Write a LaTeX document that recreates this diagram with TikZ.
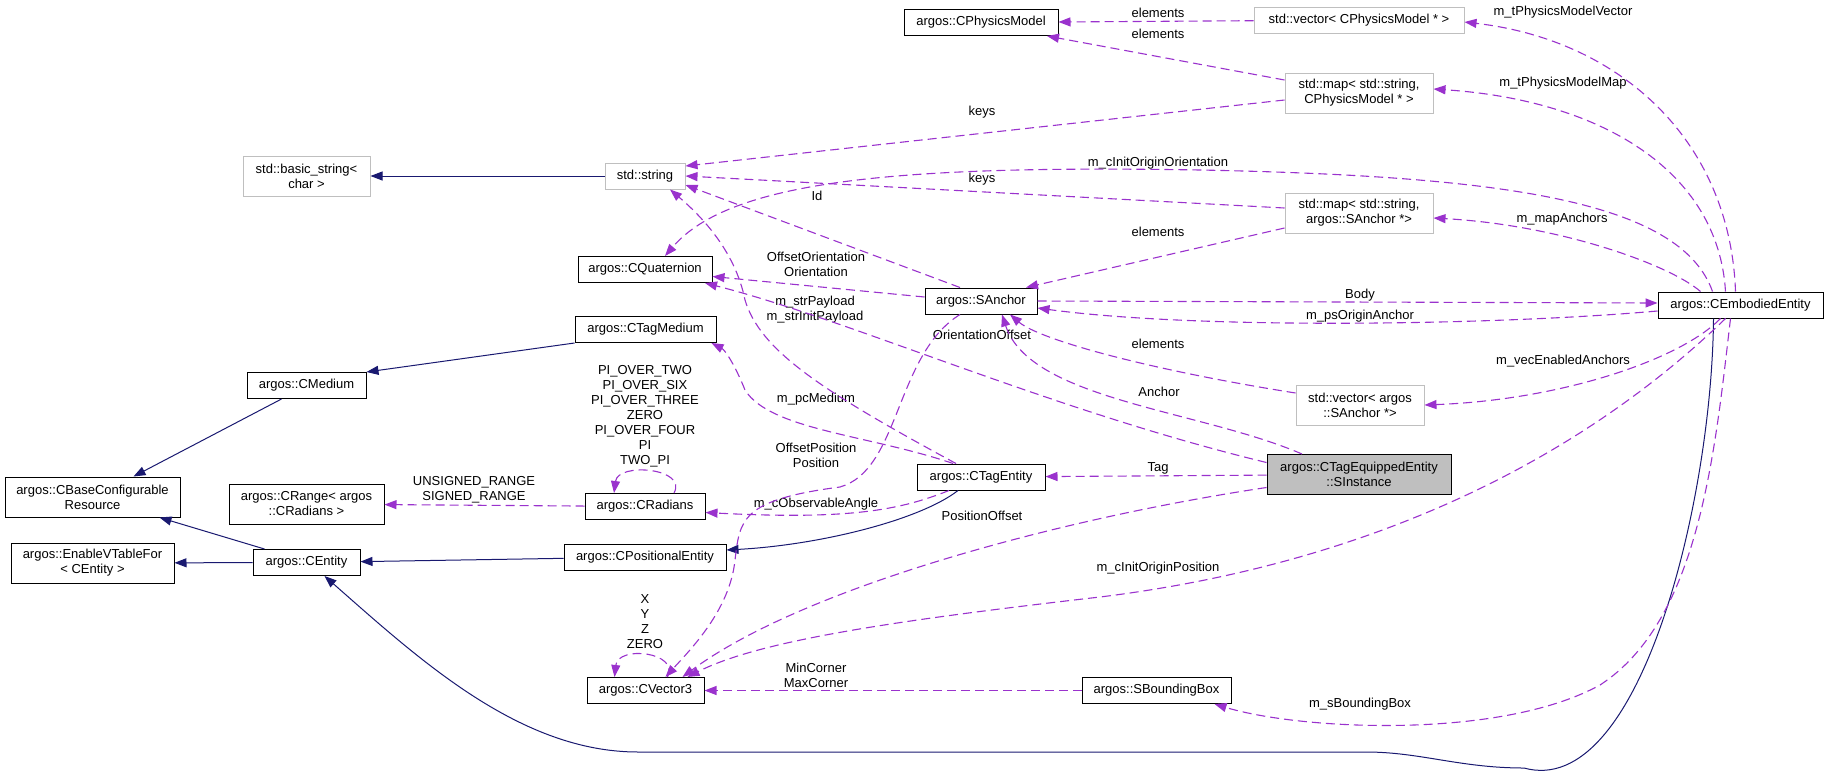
\documentclass[tikz,border=0pt]{standalone}
\usepackage{fontspec}
\setmainfont{Liberation Sans}
\usepackage{tikz}
\usetikzlibrary{arrows.meta}
\definecolor{inhblue}{HTML}{191970}
\definecolor{usepurple}{HTML}{9A32CD}
\definecolor{extgray}{HTML}{BFBFBF}
\tikzstyle{every node} = [
		font = \fontsize{13}{15}\selectfont,
		align = center
	]
\tikzstyle{cls} = [
		rectangle,
		draw = black,
		line width = 1pt,
		fill = white,
		inner xsep = 4pt,
		inner ysep = 2pt,
		minimum height = 26pt
	]
\tikzstyle{extcls} = [cls, draw = extgray]
\tikzstyle{rootcls} = [cls, fill = extgray]
\tikzstyle{twoline} = [minimum height = 40pt]
\tikzstyle{lbl} = [inner sep = 0pt]
\tikzstyle{inherit} = [
		draw = inhblue,
		line width = 1pt,
		-{Triangle[length=12pt, width=9pt]}
	]
\tikzstyle{usage} = [
		draw = usepurple,
		line width = 1.1pt,
		dash pattern = on 9pt off 5pt,
		-{Triangle[length=12pt, width=9pt]}
	]
\begin{document}
\begin{tikzpicture}[x = 1pt, y = -1pt]
	\useasboundingbox (0,0) rectangle (1828,774);

		%------------------------------Classes------------------------------
		\node [extcls, twoline, minimum width=127pt] (basicstr) at (306.5,176) {std::basic\_string<\\ char >};
		\node [extcls, minimum width=80pt] (stdstr) at (645,176) {std::string};
		\node [cls, minimum width=154pt] (physmodel) at (981,22.5) {argos::CPhysicsModel};
		\node [extcls, minimum width=210pt] (vecphys) at (1359,20) {std::vector< CPhysicsModel * >};
		\node [extcls, twoline, minimum width=148pt] (mapphys) at (1359,93) {std::map< std::string,\\ CPhysicsModel * >};
		\node [extcls, twoline, minimum width=148pt] (mapanchor) at (1359,213) {std::map< std::string,\\ argos::SAnchor *>};
		\node [cls, minimum width=134pt] (quat) at (645,269.5) {argos::CQuaternion};
		\node [cls, minimum width=112pt] (sanchor) at (981,301) {argos::SAnchor};
		\node [cls, minimum width=141pt] (tagmed) at (645.5,329.5) {argos::CTagMedium};
		\node [cls, minimum width=165pt] (embodied) at (1740.5,305) {argos::CEmbodiedEntity};
		\node [cls, minimum width=119pt] (medium) at (306.5,385.5) {argos::CMedium};
		\node [extcls, twoline, minimum width=128pt] (vecanchor) at (1360,405) {std::vector< argos\\ ::SAnchor *>};
		\node [rootcls, twoline, minimum width=184pt] (sinst) at (1359,474.5) {argos::CTagEquippedEntity\\ ::SInstance};
		\node [cls, twoline, minimum width=175pt] (baseconf) at (92.5,497) {argos::CBaseConfigurable\\ Resource};
		\node [cls, twoline, minimum width=155pt] (crange) at (306.5,504) {argos::CRange< argos\\ ::CRadians >};
		\node [cls, minimum width=128pt] (tagent) at (981,477) {argos::CTagEntity};
		\node [cls, minimum width=120pt] (radians) at (645,506.5) {argos::CRadians};
		\node [cls, twoline, minimum width=163pt] (vtable) at (92.5,563) {argos::EnableVTableFor\\ < CEntity >};
		\node [cls, minimum width=107pt] (entity) at (306.5,562.5) {argos::CEntity};
		\node [cls, minimum width=162pt] (posent) at (645,557) {argos::CPositionalEntity};
		\node [cls, minimum width=117pt] (vec3) at (645.5,690.5) {argos::CVector3};
		\node [cls, minimum width=149pt] (bbox) at (1156.5,690.5) {argos::SBoundingBox};

		%------------------------------Labels------------------------------
		\node [lbl] (lelem1) at (1158,13) {elements};
		\node [lbl] (lelem2) at (1158,34) {elements};
		\node [lbl] (lkeys1) at (982,112) {keys};
		\node [lbl] (lkeys2) at (982,179) {keys};
		\node [lbl] (lvecphys) at (1563,12) {m\_tPhysicsModelVector};
		\node [lbl] (lmapphys) at (1563,83) {m\_tPhysicsModelMap};
		\node [lbl] (lorient) at (1158,163) {m\_cInitOriginOrientation};
		\node [lbl] (lmapanch) at (1562,219) {m\_mapAnchors};
		\node [lbl] (lid) at (817,196) {Id};
		\node [lbl] (lelem3) at (1158,232) {elements};
		\node [lbl] (loffor) at (816,264) {OffsetOrientation\\Orientation};
		\node [lbl] (lbody) at (1360,295) {Body};
		\node [lbl] (lorigin) at (1360,316) {m\_psOriginAnchor};
		\node [lbl] (lpayload) at (815,310) {m\_strPayload\\m\_strInitPayload};
		\node [lbl] (loroff) at (982,335) {OrientationOffset};
		\node [lbl] (lelem4) at (1158,344) {elements};
		\node [lbl] (lenabled) at (1563,361) {m\_vecEnabledAnchors};
		\node [lbl] (lanchor) at (1159,392) {Anchor};
		\node [lbl] (lmedium) at (816,399) {m\_pcMedium};
		\node [lbl] (lpi) at (645,416) {PI\_OVER\_TWO\\PI\_OVER\_SIX\\PI\_OVER\_THREE\\ZERO\\PI\_OVER\_FOUR\\PI\\TWO\_PI};
		\node [lbl] (loffpos) at (816,455) {OffsetPosition\\Position};
		\node [lbl] (ltag) at (1158,468) {Tag};
		\node [lbl] (lrange) at (474,490) {UNSIGNED\_RANGE\\SIGNED\_RANGE};
		\node [lbl] (langle) at (816,504) {m\_cObservableAngle};
		\node [lbl] (lposoff) at (982,516) {PositionOffset};
		\node [lbl] (linitpos) at (1158,568) {m\_cInitOriginPosition};
		\node [lbl] (lxyz) at (645,622) {X\\Y\\Z\\ZERO};
		\node [lbl] (lcorner) at (816,675) {MinCorner\\MaxCorner};
		\node [lbl] (lbbox) at (1360,704) {m\_sBoundingBox};

		%------------------------------Inheritance------------------------------
		\draw [inherit] (stdstr) -- (basicstr);
		\draw [inherit] (tagmed.south west) -- (medium.north east);
		\draw [inherit] ([xshift=-25pt]medium.south) -- ([xshift=41pt]baseconf.north);
		\draw [inherit] ([xshift=-42pt]entity.north) -- ([xshift=67pt]baseconf.south);
		\draw [inherit] (entity) -- (vtable);
		\draw [inherit] (posent) -- (entity);
		\draw [inherit] ([xshift=-23pt]tagent.south) .. controls (920,520) and (820,545) .. ([yshift=7pt]posent.east);
		\draw [inherit] ([xshift=-27pt]embodied.south) .. controls (1712,500) and (1640,800) .. (1524,768)
			.. controls (1460,768) and (1420,752) .. (1366,752) -- (638,752)
			.. controls (520,752) and (420,660) .. ([xshift=18pt]entity.south);

		%------------------------------Usage------------------------------
		\draw [usage] (vecphys) -- (physmodel);
		\draw [usage] ([yshift=13pt]mapphys.west) -- ([xshift=66pt]physmodel.south);
		\draw [usage] ([yshift=-7pt]mapphys.west) -- ([yshift=10pt]stdstr.east);
		\draw [usage] ([xshift=-5pt]embodied.north) .. controls (1730,140) and (1620,40) .. ([yshift=-2pt]vecphys.east);
		\draw [usage] ([xshift=-15pt]embodied.north) .. controls (1718,170) and (1600,100) .. ([yshift=4pt]mapphys.east);
		\draw [usage] ([xshift=-28pt]embodied.north) .. controls (1680,200) and (1500,176) .. (1200,170)
			.. controls (900,165) and (730,180) .. ([xshift=20pt]quat.north);
		\draw [usage] ([yshift=5pt]mapanchor.west) -- (stdstr.east);
		\draw [usage] ([yshift=-15pt]mapanchor.west) -- ([xshift=45pt]sanchor.north);
		\draw [usage] ([xshift=-40pt]embodied.north) .. controls (1670,265) and (1560,225) .. ([yshift=-5pt]mapanchor.east);
		\draw [usage] ([xshift=-21pt]sanchor.north) -- ([yshift=-9pt]stdstr.east);
		\draw [usage] ([yshift=4pt]sanchor.west) -- ([yshift=-7pt]quat.east);
		\draw [usage] ([xshift=-25pt]tagent.north) .. controls (820,390) and (760,350) .. (745,300)
			.. controls (735,250) and (700,215) .. ([xshift=25pt]stdstr.south);
		\draw [usage] ([yshift=12pt]sinst.west) .. controls (1050,410) and (850,320) .. ([xshift=60pt]quat.south);
		\draw [usage] ([xshift=-57pt]sinst.north) .. controls (1200,410) and (1030,400) .. ([xshift=21pt]sanchor.south);
		\draw [usage] ([yshift=12pt]vecanchor.west) .. controls (1150,370) and (1040,340) .. ([xshift=29pt]sanchor.south);
		\draw [usage] (sanchor.east) -- ([yshift=2pt]embodied.west);
		\draw [usage] ([yshift=-6pt]embodied.west) .. controls (1500,325) and (1200,330) .. ([yshift=-7pt]sanchor.east);
		\draw [usage] ([xshift=-20pt]embodied.south) .. controls (1680,360) and (1560,400) .. (vecanchor.east);
		\draw [usage] (sinst) -- (tagent);
		\draw [usage] ([xshift=-21pt]sanchor.south) .. controls (895,355) and (900,470) .. (840,487)
			.. controls (740,500) and (740,520) .. (735,560)
			.. controls (730,610) and (690,650) .. ([xshift=20pt]vec3.north);
		\draw [usage] ([xshift=-28pt]tagent.north) .. controls (870,435) and (770,430) .. (745,390)
			.. controls (735,365) and (725,350) .. ([xshift=66pt]tagmed.south);
		\draw [usage] ([xshift=-32pt]tagent.south) .. controls (900,510) and (850,520) .. ([yshift=-6pt]radians.east);
		\draw [usage] (radians) -- (crange);
		\draw [usage] ([xshift=29pt]radians.north) .. controls (688,468) and (618,462) .. ([xshift=-31pt]radians.north);
		\draw [usage] ([xshift=22pt]vec3.north) .. controls (680,652) and (618,645) .. ([xshift=-31pt]vec3.north);
		\draw [usage] ([yshift=-13pt]sinst.west) .. controls (1050,520) and (800,590) .. ([xshift=37pt]vec3.north);
		\draw [usage] ([xshift=-15pt]embodied.south) .. controls (1600,440) and (1400,560) .. (1100,597)
			.. controls (900,620) and (760,640) .. ([xshift=42pt]vec3.north);
		\draw [usage] (bbox) -- (vec3);
		\draw [usage] ([xshift=-10pt]embodied.south) .. controls (1715,450) and (1700,620) .. (1600,685)
			.. controls (1500,740) and (1300,730) .. ([xshift=58pt]bbox.south);

	\end{tikzpicture}
\end{document}
